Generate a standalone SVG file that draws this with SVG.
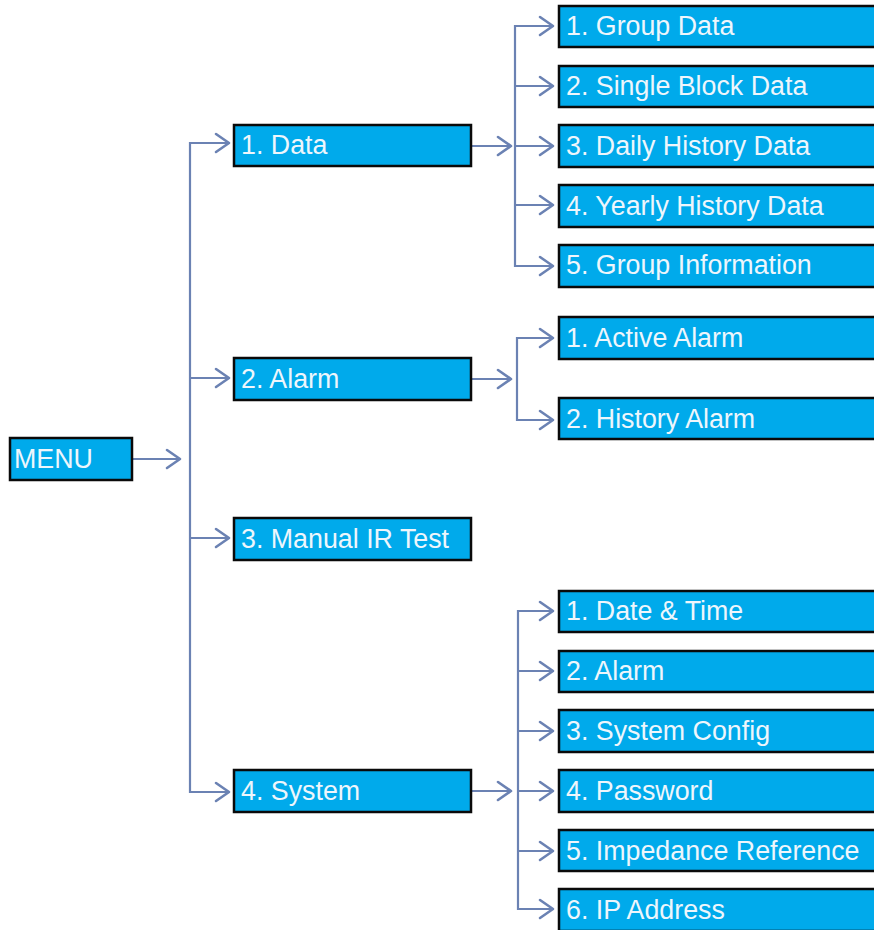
<svg xmlns="http://www.w3.org/2000/svg" width="874" height="930" viewBox="0 0 874 930">
<defs>
<marker id="arr" markerUnits="userSpaceOnUse" markerWidth="22" markerHeight="24" refX="17" refY="11" orient="auto" viewBox="0 0 22 24">
<path d="M4,2 L17,11 L4,20" fill="none" stroke="#6B82B3" stroke-width="2.6" stroke-linecap="round" stroke-linejoin="round"/>
</marker>
</defs>
<style>
.box{fill:#00AAEB;stroke:#0A0A0A;stroke-width:2.5}
.lbl{font-family:"Liberation Sans",Arial,sans-serif;font-size:26.8px;fill:#EEF6FC}
.ln{fill:none;stroke:#6B82B3;stroke-width:2.2}
.ar{fill:none;stroke:#6B82B3;stroke-width:2.2;marker-end:url(#arr)}
</style>
<rect width="874" height="930" fill="#FFFFFF"/>
<g id="connectors">
<line class="ar" x1="132" y1="459" x2="180" y2="459"/>
<line class="ln" x1="190" y1="142" x2="190" y2="793"/>
<line class="ar" x1="189" y1="143" x2="229" y2="143"/>
<line class="ar" x1="190" y1="378" x2="229" y2="378"/>
<line class="ar" x1="190" y1="538" x2="229" y2="538"/>
<line class="ar" x1="189" y1="792" x2="229" y2="792"/>
<line class="ar" x1="471" y1="146" x2="511" y2="146"/>
<line class="ln" x1="515" y1="25" x2="515" y2="267"/>
<line class="ar" x1="514" y1="26" x2="553" y2="26"/>
<line class="ar" x1="515" y1="86" x2="553" y2="86"/>
<line class="ar" x1="515" y1="146" x2="553" y2="146"/>
<line class="ar" x1="515" y1="205" x2="553" y2="205"/>
<line class="ar" x1="514" y1="266" x2="553" y2="266"/>
<line class="ar" x1="471" y1="379" x2="511" y2="379"/>
<line class="ln" x1="517" y1="337" x2="517" y2="421"/>
<line class="ar" x1="516" y1="338" x2="553" y2="338"/>
<line class="ar" x1="516" y1="420" x2="553" y2="420"/>
<line class="ar" x1="471" y1="791" x2="511" y2="791"/>
<line class="ln" x1="518" y1="610" x2="518" y2="910"/>
<line class="ar" x1="517" y1="611" x2="553" y2="611"/>
<line class="ar" x1="518" y1="671" x2="553" y2="671"/>
<line class="ar" x1="518" y1="731" x2="553" y2="731"/>
<line class="ar" x1="518" y1="791" x2="553" y2="791"/>
<line class="ar" x1="518" y1="851" x2="553" y2="851"/>
<line class="ar" x1="517" y1="909" x2="553" y2="909"/>
</g>
<g id="menu"><rect class="box" x="10" y="438" width="122" height="42"/><text class="lbl" x="14" y="468">MENU</text></g>
<g id="data"><rect class="box" x="234" y="125" width="237" height="41"/><text class="lbl" x="241" y="154">1. Data</text></g>
<g id="alarm"><rect class="box" x="234" y="358" width="237" height="42"/><text class="lbl" x="241" y="388">2. Alarm</text></g>
<g id="manual"><rect class="box" x="234" y="518" width="237" height="42"/><text class="lbl" x="241" y="548">3. Manual IR Test</text></g>
<g id="system"><rect class="box" x="234" y="770" width="237" height="42"/><text class="lbl" x="241" y="800">4. System</text></g>
<g id="group-data"><rect class="box" x="559" y="6" width="330" height="41"/><text class="lbl" x="566" y="35">1. Group Data</text></g>
<g id="single-block"><rect class="box" x="559" y="66" width="330" height="41"/><text class="lbl" x="566" y="95">2. Single Block Data</text></g>
<g id="daily-history"><rect class="box" x="559" y="125" width="330" height="42"/><text class="lbl" x="566" y="155">3. Daily History Data</text></g>
<g id="yearly-history"><rect class="box" x="559" y="185" width="330" height="42"/><text class="lbl" x="566" y="215">4. Yearly History Data</text></g>
<g id="group-info"><rect class="box" x="559" y="245" width="330" height="42"/><text class="lbl" x="566" y="274">5. Group Information</text></g>
<g id="active-alarm"><rect class="box" x="559" y="317" width="330" height="42"/><text class="lbl" x="566" y="347">1. Active Alarm</text></g>
<g id="history-alarm"><rect class="box" x="559" y="398" width="330" height="41"/><text class="lbl" x="566" y="428">2. History Alarm</text></g>
<g id="date-time"><rect class="box" x="559" y="591" width="330" height="41"/><text class="lbl" x="566" y="620">1. Date &amp; Time</text></g>
<g id="sys-alarm"><rect class="box" x="559" y="651" width="330" height="41"/><text class="lbl" x="566" y="680">2. Alarm</text></g>
<g id="system-config"><rect class="box" x="559" y="710" width="330" height="42"/><text class="lbl" x="566" y="740">3. System Config</text></g>
<g id="password"><rect class="box" x="559" y="770" width="330" height="42"/><text class="lbl" x="566" y="800">4. Password</text></g>
<g id="impedance"><rect class="box" x="559" y="830" width="330" height="41"/><text class="lbl" x="566" y="860">5. Impedance Reference</text></g>
<g id="ip-address"><rect class="box" x="559" y="889" width="330" height="42"/><text class="lbl" x="566" y="919">6. IP Address</text></g>
</svg>
